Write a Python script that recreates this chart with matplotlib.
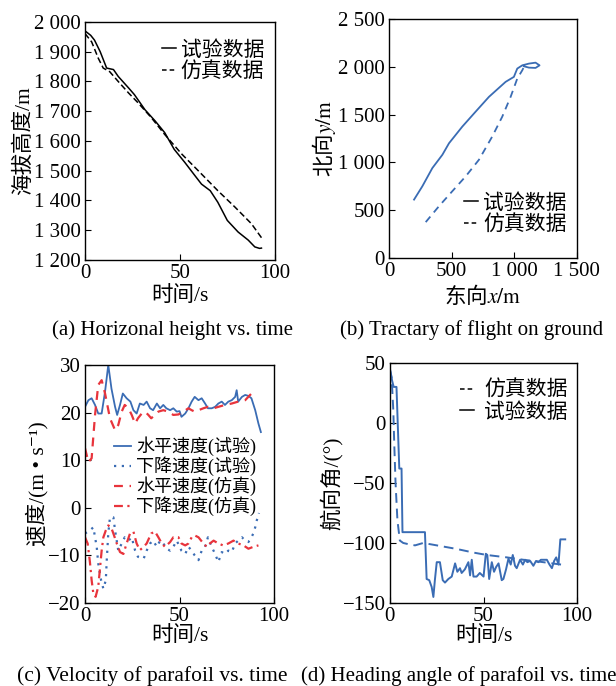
import matplotlib
matplotlib.use('Agg')
matplotlib.rcParams.update({
	"font.family": ["Liberation Serif", "Noto Sans CJK SC", "DejaVu Serif"],
	"mathtext.fontset": "stix",
	"font.size": 15.0,
	"axes.labelsize": 15.5,
	"xtick.labelsize": 15.0,
	"ytick.labelsize": 15.0,
	"legend.fontsize": 15.0,
	"xtick.direction": "in",
	"ytick.direction": "in",
	"xtick.major.size": 4,
	"ytick.major.size": 4,
	"axes.linewidth": 1.0,
	"axes.unicode_minus": True,
})
from matplotlib import pyplot as plt
from matplotlib import ticker as tkr
from matplotlib.lines import Line2D

BLUE = '#3a6cb4'
RED = '#e8343c'

# (a) altitude vs time
t_a_test = [0, 3, 5, 8, 11.4, 15, 17.5, 23, 26, 31.6, 37, 42, 47, 52.6, 58, 61.4, 66, 70, 75, 80.7, 86, 89.5, 92, 93]
h_a_test = [1970, 1955, 1939, 1900, 1845, 1840, 1817, 1778, 1756, 1705, 1667, 1628, 1572, 1528, 1483, 1455, 1433, 1394, 1333, 1294, 1267, 1244, 1239, 1240]
t_a_sim = [0, 3.5, 7, 9.6, 13, 17.5, 23, 28, 35, 42, 51, 61.4, 70, 79, 87.7, 93]
h_a_sim = [1961, 1933, 1878, 1845, 1833, 1800, 1761, 1728, 1678, 1622, 1556, 1489, 1433, 1378, 1322, 1275]

# (b) ground track
x_b_test = [200, 266, 346, 426, 479, 585, 691, 798, 931, 997, 1024, 1064, 1117, 1170, 1202, 1170, 1117, 1077]
y_b_test = [611, 750, 941, 1080, 1201, 1375, 1531, 1687, 1844, 1896, 1983, 2017, 2035, 2045, 2017, 1990, 1993, 2007]
x_b_sim = [293, 399, 505, 612, 718, 824, 904, 971, 1024, 1064, 1077]
y_b_sim = [375, 542, 698, 854, 1028, 1271, 1479, 1687, 1878, 1965, 2000]

# (c) velocities
t_c_h_test = [0, 1.8, 3.5, 5.3, 7, 8.8, 10.6, 12.3, 14, 15.9, 17, 18.5, 20, 22, 24, 25.6, 27.3, 29, 31, 32.6,
	34.4, 36, 38, 39.7, 41.4, 43, 45, 46.7, 48.5, 50, 51, 53, 54.7, 56.4, 58, 60, 61.7, 63.5, 65, 67,
	68.8, 70.5, 72.3, 74, 75.8, 77.6, 79.4, 80.2, 81, 83, 84.7, 86.4, 88, 90, 91.7, 93]
v_c_h_test = [21.2, 22.6, 23, 21.6, 19.8, 19.8, 24.4, 30, 25, 21.2, 19.5, 21.6, 24, 23, 22.3, 20.5, 19.8, 21.9, 21.6, 22.3,
	20.9, 20.5, 21.9, 20.9, 21.6, 20.9, 20.5, 20.9, 20.2, 20.3, 19.1, 19.8, 20.9, 22.3, 23.3, 22.6, 23, 21.9, 20.9, 20.9,
	21.2, 21.9, 22.3, 21.6, 22.3, 22.6, 23.3, 24.7, 22.3, 23.3, 23.7, 23.5, 23, 20.5, 17.7, 15.9]
t_c_v_test = [0, 2.6, 4.4, 6.2, 7, 8.5, 9.7, 11, 11.5, 12.3, 13.2, 15, 15.9, 17.6, 19.4, 21, 23, 24.7, 26.5, 28,
	31, 32.6, 34.4, 36, 38, 39.7, 41.4, 43.2, 45, 46.7, 48.5, 51, 53, 54.7, 56.4, 58, 60, 61.7, 63.5, 65,
	67, 68.8, 70.5, 72.3, 74, 75.8, 77.6, 79.4, 81, 83, 84.7, 86.4, 88, 89, 90, 90.8, 92]
v_c_v_test = [-5.4, -4.75, -4.1, -8.25, -11.7, -15.2, -17, -15.2, -11, -5.4, -2, -2, -4.75, -9, -7.5, -6.2, -6.9, -6.2, -9, -10.3,
	-10.7, -9, -7.5, -6.9, -8.2, -6.9, -7.5, -8.6, -9, -8.2, -6.9, -9, -9.7, -8.2, -9, -10, -11, -9, -8.2, -6.2,
	-8.2, -9.7, -11.4, -9.3, -9.7, -9, -9.3, -7.5, -6.9, -6.2, -6.9, -7.2, -6.2, -5.4, -4.1, -2.7, -1.1]
t_c_h_sim = [0, 1.8, 3.5, 5.3, 7, 8.8, 10.6, 13.2, 15.9, 17.6, 19.4, 21, 23, 24.7, 26.5, 28, 30, 31.7, 33.5, 35,
	37, 38.8, 41.4, 44, 46.7, 49.4, 52, 54.7, 56.4, 58, 60, 62.6, 65, 68, 70.5, 74, 77.6, 81, 84.7, 87.3, 89, 90.3]
v_c_h_sim = [12.5, 9.6, 10.4, 19.5, 25.8, 26.8, 24, 18.8, 16.3, 17.4, 20.2, 21.6, 20.9, 19.5, 17.7, 18.8, 19.8, 20.2, 19.5, 18.8,
	19.5, 20.2, 20.5, 20.2, 19.5, 19.6, 20.2, 20.9, 20.5, 20.2, 20.5, 20.9, 21.2, 20.9, 21.2, 21.6, 21.9, 22.3, 22.6, 23.7, 24.4, 24.5]
t_c_v_sim = [0, 1.4, 2.6, 3.5, 4.4, 5.6, 7, 8, 8.8, 9.7, 11, 12.3, 13.8, 15, 16.8, 18.5, 20.3, 22, 23.8, 25.6,
	27.3, 29, 31, 32.6, 35, 37, 38.8, 40.6, 42.3, 45, 46.7, 49.4, 51, 53, 54.7, 56.4, 58, 60, 62.6, 64.4,
	66, 68, 70.5, 73, 75.8, 78.5, 81, 83.8, 86.4, 89, 91.7]
v_c_v_sim = [-6.2, -7.5, -11.4, -15.2, -18, -18.7, -16.6, -12.4, -9, -6.2, -4.75, -3.7, -4.1, -5.4, -7.5, -9.3, -9.7, -7.5, -5.4, -5,
	-7.5, -8.9, -8.2, -7.5, -5.4, -5, -6.2, -7.5, -8.2, -7.2, -6.2, -6.2, -7.5, -7.9, -7.5, -6.2, -5.8, -6.2, -7.5, -8.2,
	-7.5, -6.9, -7.5, -7.9, -7.5, -6.9, -7.5, -7.9, -8.6, -8.2, -7.9]

# (d) heading angle
t_d_test = [0, 1.2, 2, 3.5, 5, 6.2, 6.7, 18.7, 19.6, 21, 22.3, 23.2, 24, 25, 26.7, 28.2, 29.4, 31.2,
	33, 34.8, 36, 37.4, 38.3, 40, 41.9, 42.8, 43.7, 44.6, 46.3, 48, 50, 51.2, 52, 53, 54.4, 55.6, 56.7, 58,
	59.7, 60.6, 62, 63.3, 64.5, 65.6, 66.8, 67.7, 69.5, 71, 72.2, 73.4, 74.9, 76.6, 78, 79.3, 80.6, 82, 83.8, 85.2,
	86.5, 87.7, 88.8, 90, 91, 91.8, 93.6]
a_d_test = [44, 35, 30, 30, -38, -38, -91, -91, -130, -131, -136.7, -145, -131, -116, -116, -131, -133, -130,
	-128, -117, -124, -121, -125, -122, -116, -127, -114, -128, -128, -125, -128, -109, -110, -130, -116, -124, -120, -117,
	-131, -130, -122, -113, -118, -110, -119, -121, -114, -118, -114, -116, -115, -119, -115, -116, -114, -114, -114, -118,
	-121, -115, -112, -118, -97, -97, -97]
t_d_sim = [0, 0.9, 1.8, 2.3, 3, 4, 5.3, 7.1, 9.8, 13.4, 17.8, 25, 35.7, 44.6, 51.7, 62.4, 71.3, 80, 89, 91.5]
a_d_sim = [45, 38, 10.5, -17, -50, -81, -98, -100, -101, -102, -100, -102, -105, -108, -110, -112, -114, -115.6, -117.5, -118]


def thousands(x, pos):
	s = '{:,.0f}'.format(abs(x)).replace(',', ' ')
	return ('\u2212' + s) if x < 0 else s

def style(axes):
	axes.tick_params(top=False, right=False, pad=3)

def legend(axes, handles, labels, **kw):
	opts = dict(frameon=False, handlelength=0.65, handletextpad=0.25,
		borderpad=0.0, labelspacing=0.1, borderaxespad=0.0)
	opts.update(kw)
	return axes.legend(handles, labels, **opts)

fig = plt.figure(figsize=(6.16, 6.86), dpi=100)
ax_a = fig.add_axes([0.138, 0.621, 0.308, 0.347])
ax_b = fig.add_axes([0.6315, 0.624, 0.305, 0.348])
ax_c = fig.add_axes([0.138, 0.121, 0.307, 0.347])
ax_d = fig.add_axes([0.633, 0.121, 0.304, 0.350])

solid_k = Line2D([], [], color='k', lw=1.1)
dash_k = Line2D([], [], color='k', lw=1.1, ls=(0, (3, 2)))

# (a)
ax_a.plot(t_a_test, h_a_test, '-', color='k', lw=1.1)
ax_a.plot(t_a_sim, h_a_sim, ls=(0, (4, 2)), color='k', lw=1.1)
ax_a.set_xlim(0, 100)
ax_a.set_ylim(1200, 2000)
ax_a.set_xticks([0, 50, 100])
ax_a.set_yticks(range(1200, 2001, 100))
ax_a.yaxis.set_major_formatter(tkr.FuncFormatter(thousands))
ax_a.set_xlabel('时间/s', labelpad=2)
ax_a.set_ylabel('海拔高度/m', labelpad=0)
legend(ax_a, [solid_k, dash_k], ['试验数据', '仿真数据'],
	loc='upper right', bbox_to_anchor=(0.945, 0.92))
style(ax_a)

# (b)
ax_b.plot(x_b_test, y_b_test, '-', color=BLUE, lw=1.3)
ax_b.plot(x_b_sim, y_b_sim, ls=(0, (4, 3)), color=BLUE, lw=1.3)
ax_b.set_xlim(0, 1500)
ax_b.set_ylim(0, 2500)
ax_b.set_xticks([0, 500, 1000, 1500])
ax_b.set_yticks(range(0, 2501, 500))
ax_b.xaxis.set_major_formatter(tkr.FuncFormatter(thousands))
ax_b.yaxis.set_major_formatter(tkr.FuncFormatter(thousands))
ax_b.set_xlabel('东向$\\mathit{x}\\mathrm{/m}$', family='Noto Sans CJK SC', labelpad=2)
ax_b.set_ylabel('北向$\\mathit{y}\\mathrm{/m}$', family='Noto Sans CJK SC', labelpad=0)
legend(ax_b, [solid_k, dash_k], ['试验数据', '仿真数据'],
	loc='lower right', bbox_to_anchor=(0.945, 0.093))
style(ax_b)

# (c)
l1, = ax_c.plot(t_c_h_test, v_c_h_test, '-', color=BLUE, lw=1.3)
l2, = ax_c.plot(t_c_v_test, v_c_v_test, ls=(0, (1, 2.5)), color=BLUE, lw=1.6)
l3, = ax_c.plot(t_c_h_sim, v_c_h_sim, ls=(0, (4, 3)), color=RED, lw=1.6)
l4, = ax_c.plot(t_c_v_sim, v_c_v_sim, ls=(0, (4, 2, 1, 2)), color=RED, lw=1.6)
ax_c.set_xlim(0, 100)
ax_c.set_ylim(-20, 30)
ax_c.set_xticks([0, 50, 100])
ax_c.set_yticks([-20, -10, 0, 10, 20, 30])
ax_c.set_xlabel('时间/s', labelpad=0)
ax_c.set_ylabel('速度/(m • s⁻¹)', labelpad=0)
legend(ax_c, [l1, l2, l3, l4], ['水平速度(试验)', '下降速度(试验)', '水平速度(仿真)', '下降速度(仿真)'],
	loc='upper right', bbox_to_anchor=(0.905, 0.7), fontsize=13, handlelength=0.95, handletextpad=0.3,
	labelspacing=0.02)
style(ax_c)

# (d)
ax_d.plot(t_d_sim, a_d_sim, ls=(0, (5, 3)), color=BLUE, lw=1.4)
ax_d.plot(t_d_test, a_d_test, '-', color=BLUE, lw=1.4)
ax_d.set_xlim(0, 100)
ax_d.set_ylim(-150, 50)
ax_d.set_xticks([0, 50, 100])
ax_d.set_yticks([-150, -100, -50, 0, 50])
ax_d.set_xlabel('时间/s', labelpad=0)
ax_d.set_ylabel('航向角/(°)', labelpad=0)
legend(ax_d, [dash_k, solid_k], ['仿真数据', '试验数据'],
	loc='upper right', bbox_to_anchor=(0.95, 0.925), handletextpad=0.5)
style(ax_d)

# captions
fig.text(0.28, 1 - 330/686., '(a) Horizonal height vs. time', ha='center', va='center', fontsize=15)
fig.text(0.765, 1 - 330/686., '(b) Tractary of flight on ground', ha='center', va='center', fontsize=15)
fig.text(0.247, 1 - 676/686., '(c) Velocity of parafoil vs. time', ha='center', va='center', fontsize=15.5)
fig.text(0.744, 1 - 676/686., '(d) Heading angle of parafoil vs. time', ha='center', va='center', fontsize=15)

fig.savefig('out.png', dpi=100)
